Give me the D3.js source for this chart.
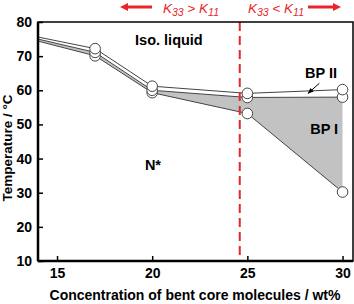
<!DOCTYPE html>
<html>
<head>
<meta charset="utf-8">
<script src="https://cdn.jsdelivr.net/npm/d3@7"></script>
<style>
  body { margin: 0; background: #fff; }
  svg { font-family: Arial, "Liberation Sans", sans-serif; }
  .tick text { font-size: 14px; font-weight: bold; }
  .lbl { font-weight: bold; font-size: 14.5px; }
</style>
</head>
<body>
<svg width="354" height="304"></svg>
<script>
const conc = [14, 17, 20, 25, 30];
const tIso = [75.6, 72.2, 61.2, 59.1, 60.2];   // Iso -> BP II
const tBp2 = [75.0, 71.1, 60.0, 57.9, 58.0];   // BP II -> BP I
const tBp1 = [74.4, 70.1, 59.3, 53.2, 30.2];   // BP I -> N*
const markConc = [17, 20, 25, 30];
const xTicks = [15, 20, 25, 30];
const yTicks = [10, 20, 30, 40, 50, 60, 70, 80];
const boundary = 24.6;

const svg = d3.select('svg');
const margin = { top: 22, right: 1, bottom: 43, left: 38 };
const width = +svg.attr('width');
const height = +svg.attr('height');
const innerWidth = width - margin.left - margin.right;
const innerHeight = height - margin.top - margin.bottom;

const x = d3.scaleLinear().domain([14, 30.55]).range([0, innerWidth]);
const y = d3.scaleLinear().domain([10, 80]).range([innerHeight, 0]);

const defs = svg.append('defs');
defs.append('marker')
    .attr('id', 'ah')
    .attr('viewBox', '0 0 10 10')
    .attr('refX', 9).attr('refY', 5)
    .attr('markerWidth', 6).attr('markerHeight', 6)
    .attr('orient', 'auto')
  .append('path')
    .attr('d', 'M0,1L10,5L0,9Z')
    .attr('fill', '#000');
defs.append('clipPath').attr('id', 'clip')
  .append('rect').attr('width', innerWidth).attr('height', innerHeight);

const g = svg.append('g')
    .attr('transform', `translate(${margin.left},${margin.top})`);

const rows = conc.map((c, i) => ({ c, a: tIso[i], b: tBp2[i], n: tBp1[i] }));
const plot = g.append('g').attr('clip-path', 'url(#clip)');

// BP I region (gray)
plot.append('path')
    .attr('fill', '#c2c2c2')
    .attr('d', d3.area().x(d => x(d.c)).y0(d => y(d.n)).y1(d => y(d.b))(rows));
// BP II region (white band)
plot.append('path')
    .attr('fill', '#fff')
    .attr('d', d3.area().x(d => x(d.c)).y0(d => y(d.b)).y1(d => y(d.a))(rows));

const lineGen = key => d3.line().x(d => x(d.c)).y(d => y(d[key]))(rows);
['a', 'b', 'n'].forEach(k => {
  plot.append('path')
      .attr('d', lineGen(k))
      .attr('fill', 'none')
      .attr('stroke', '#444')
      .attr('stroke-width', 1);
});

// markers
const pts = [];
rows.forEach(d => {
  if (markConc.includes(d.c)) {
    pts.push({ c: d.c, t: d.n }, { c: d.c, t: d.b }, { c: d.c, t: d.a });
  }
});
g.selectAll('circle.pt').data(pts).join('circle')
    .attr('class', 'pt')
    .attr('cx', d => x(d.c))
    .attr('cy', d => y(d.t))
    .attr('r', 5.3)
    .attr('fill', '#fff')
    .attr('stroke', '#444')
    .attr('stroke-width', 1);

// dashed boundary
g.append('line')
    .attr('x1', x(boundary)).attr('x2', x(boundary))
    .attr('y1', 0).attr('y2', innerHeight)
    .attr('stroke', '#e8262a')
    .attr('stroke-width', 2)
    .attr('stroke-dasharray', '9,5');

// frame
g.append('rect')
    .attr('width', innerWidth).attr('height', innerHeight)
    .attr('fill', 'none').attr('stroke', '#000').attr('stroke-width', 1.5);

// axes
const xAxisG = g.append('g')
    .attr('transform', `translate(0,${innerHeight})`)
    .call(d3.axisBottom(x).tickValues(xTicks).tickSize(-5).tickPadding(7));
xAxisG.select('.domain').remove();
xAxisG.selectAll('.tick line').attr('stroke-width', 1.5);

const yAxisG = g.append('g')
    .call(d3.axisLeft(y).tickValues(yTicks).tickSize(-5).tickPadding(6));
yAxisG.select('.domain').remove();
yAxisG.selectAll('.tick line').attr('stroke-width', 1.5);

g.append('line')
    .attr('x1', 0).attr('x2', innerWidth)
    .attr('y1', innerHeight).attr('y2', innerHeight)
    .attr('stroke', '#000').attr('stroke-width', 2.5);
g.append('line')
    .attr('x1', 0).attr('x2', 0)
    .attr('y1', 0).attr('y2', innerHeight)
    .attr('stroke', '#000').attr('stroke-width', 2.5);

// axis titles
svg.append('text')
    .attr('class', 'lbl')
    .attr('x', 195)
    .attr('y', 300)
    .attr('text-anchor', 'middle')
    .style('font-size', '14px')
    .text('Concentration of bent core molecules / wt%');

svg.append('text')
    .attr('class', 'lbl')
    .attr('transform', `translate(12,148) rotate(-90)`)
    .attr('text-anchor', 'middle')
    .style('font-size', '13.5px')
    .text('Temperature / °C');

// region labels
g.append('text').attr('class', 'lbl').attr('x', x(19.1)).attr('y', y(73.3)).text('Iso. liquid');
g.append('text').attr('class', 'lbl').attr('x', x(28.03)).attr('y', y(63.6)).text('BP II');
g.append('text').attr('class', 'lbl').attr('x', x(28.3)).attr('y', y(47.2)).text('BP I');
g.append('text').attr('class', 'lbl').attr('x', x(20.04)).attr('y', y(36.65)).attr('text-anchor', 'middle').text('N*');

g.append('line')
    .attr('x1', x(28.78)).attr('y1', y(62.05))
    .attr('x2', x(28.19)).attr('y2', y(59.1))
    .attr('stroke', '#000').attr('stroke-width', 1)
    .attr('marker-end', 'url(#ah)');

// K33 / K11 annotations, one text per piece
const red = '#e8262a';
const kText = (xPos, sym) => {
  const parts = [
    { s: 'K', size: 13.5, dy: 0, italic: true },
    { s: '33', size: 10.5, dy: 3, italic: true },
    { s: ` ${sym} `, size: 13.5, dy: 0, italic: false },
    { s: 'K', size: 13.5, dy: 0, italic: true },
    { s: '11', size: 10.5, dy: 3, italic: true }
  ];
  let cx = xPos;
  parts.forEach(p => {
    const t = svg.append('text')
        .attr('x', cx).attr('y', 13 + p.dy)
        .attr('fill', red)
        .style('font-style', p.italic ? 'italic' : 'normal')
        .style('font-size', p.size + 'px')
        .style('white-space', 'pre')
        .text(p.s);
    cx += t.node().getComputedTextLength();
  });
};
kText(163, '>');
kText(248, '<');

const arrow = (x1, x2) => {
  const dir = Math.sign(x2 - x1);
  svg.append('line')
      .attr('x1', x1).attr('x2', x2 - dir * 6)
      .attr('y1', 7).attr('y2', 7)
      .attr('stroke', red).attr('stroke-width', 3);
  svg.append('path')
      .attr('d', `M${x2},7L${x2 - dir * 8},3L${x2 - dir * 8},11Z`)
      .attr('fill', red);
};
arrow(152, 120);
arrow(308, 341);
</script>
</body>
</html>
